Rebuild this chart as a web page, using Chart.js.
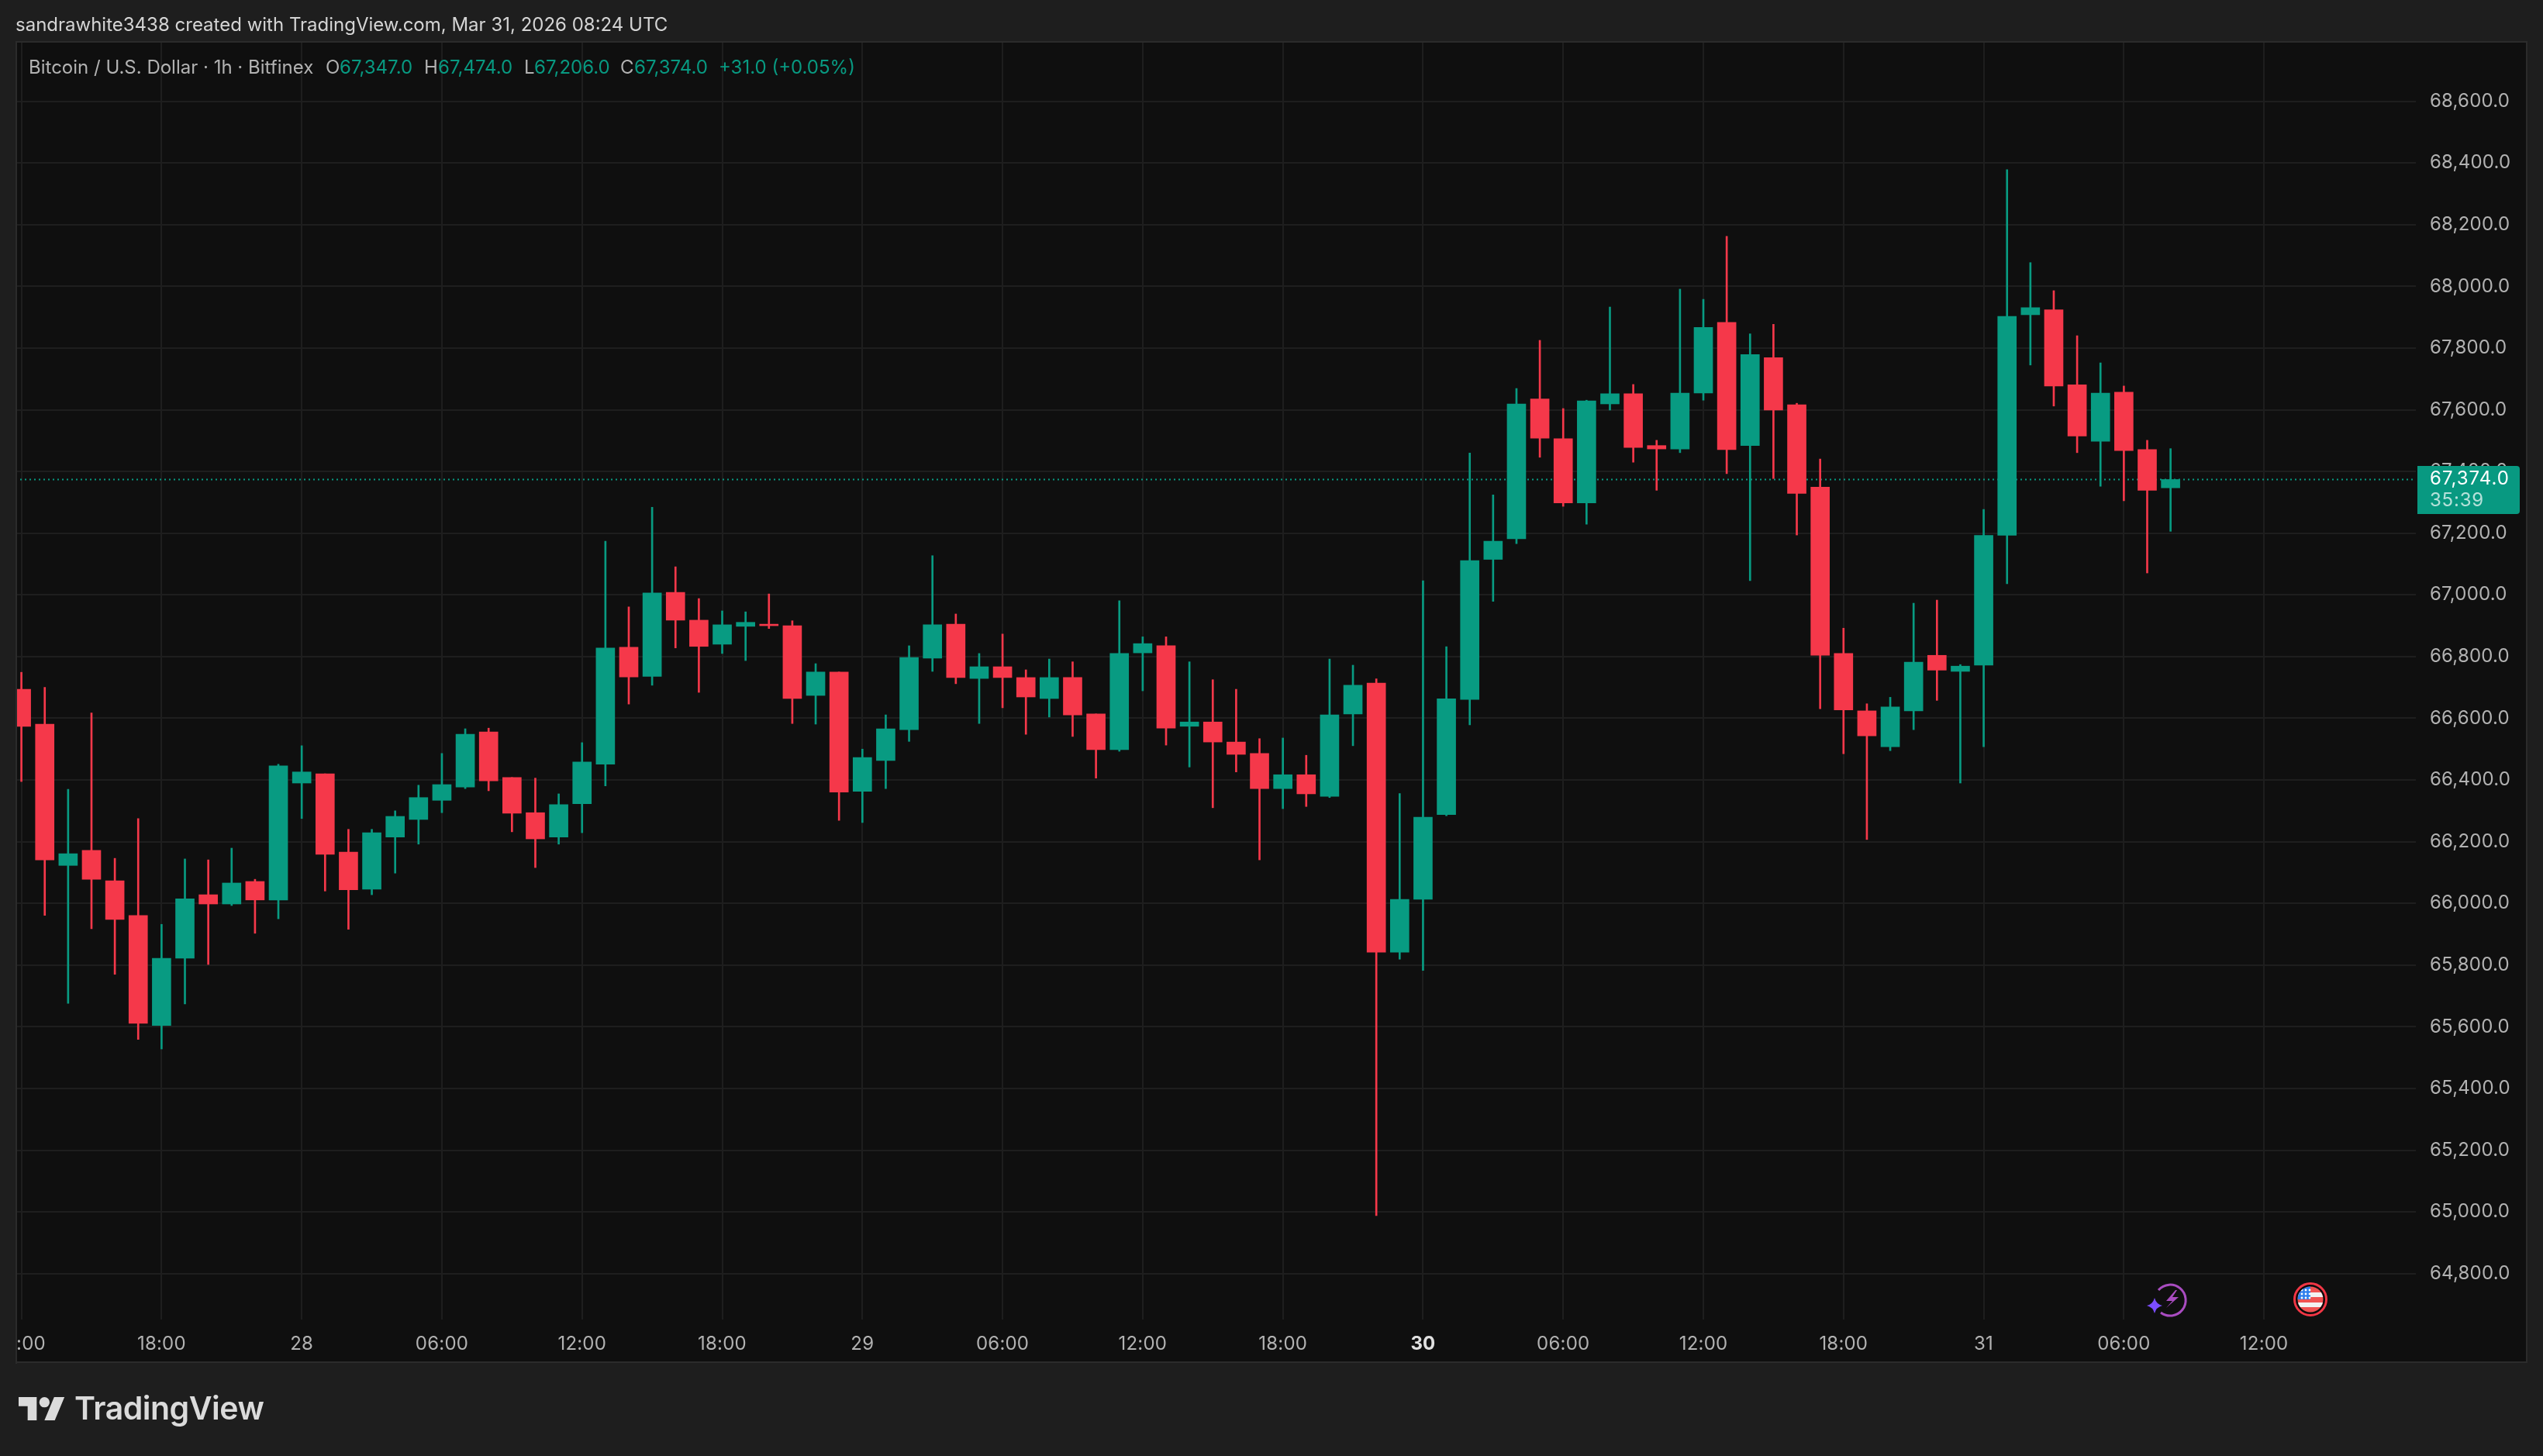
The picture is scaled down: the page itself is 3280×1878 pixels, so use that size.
<!DOCTYPE html>
<html>
<head>
<meta charset="utf-8">
<style>
html,body{margin:0;padding:0;background:#1e1e1e;overflow:hidden}
#wrap{position:relative;width:3280px;height:1878px;font-family:Inter,sans-serif}
canvas{position:absolute;left:0;top:0}
.t{position:absolute;white-space:nowrap;line-height:1;font-size:24px}
.g{color:#089981}.l{color:#b2b2b2}
</style>
<script src="https://cdn.jsdelivr.net/npm/chart.js@4"></script>
</head>
<body>
<div id="wrap">
<canvas id="c" width="3280" height="1878"></canvas>
<div class="t" style="left:20px;top:20px;color:#d4d4d4">sandrawhite3438 created with TradingView.com, Mar 31, 2026 08:24 UTC</div>
<div class="t l" style="left:37px;top:75px">Bitcoin / U.S. Dollar · 1h · Bitfinex</div>
<div class="t l" style="left:420px;top:75px">O</div><div class="t g" style="left:438px;top:75px">67,347.0</div>
<div class="t l" style="left:547px;top:75px">H</div><div class="t g" style="left:565px;top:75px">67,474.0</div>
<div class="t l" style="left:676px;top:75px">L</div><div class="t g" style="left:689px;top:75px">67,206.0</div>
<div class="t l" style="left:800px;top:75px">C</div><div class="t g" style="left:818px;top:75px">67,374.0</div>
<div class="t g" style="left:927px;top:75px">+31.0 (+0.05%)</div>
<svg style="position:absolute;left:24px;top:1802px" width="60" height="30" viewBox="0 4 36 18"><path fill="#dbdbdb" d="M14 22H7V11H0V4h14v18zM28 22h-8l7.5-18h8L28 22z"/><circle fill="#dbdbdb" cx="20" cy="8" r="4"/></svg>
<div class="t" style="left:96px;top:1796px;font-size:41px;font-weight:600;color:#dbdbdb;letter-spacing:-0.5px">TradingView</div>
<svg style="position:absolute;left:2765px;top:1650px" width="62" height="54" viewBox="2765 1650 62 54">
<path d="M2784 1664A20 20 0 1 1 2787 1693" fill="none" stroke="#a94cc0" stroke-width="3"/>
<path d="M2806 1664L2794 1678H2802L2794 1687L2810 1673H2802L2808 1664Z" fill="#a94cc0"/>
<path d="M2779 1674Q2781 1682 2789 1684Q2781 1686 2779 1694Q2777 1686 2769 1684Q2777 1682 2779 1674Z" fill="#7b4dff"/>
</svg>
<svg style="position:absolute;left:2955px;top:1651px" width="50" height="50" viewBox="2955 1651 50 50">
<defs><clipPath id="fc"><circle cx="2980" cy="1676" r="16.5"/></clipPath></defs>
<circle cx="2980" cy="1676" r="20.5" fill="#0b0b0b" stroke="#f23645" stroke-width="3"/>
<g clip-path="url(#fc)">
<rect x="2960" y="1656" width="40" height="40" fill="#f05252"/>
<rect x="2960" y="1667" width="40" height="6" fill="#f2f2f2"/>
<rect x="2960" y="1680" width="40" height="6" fill="#f2f2f2"/>
<rect x="2960" y="1656" width="20" height="20" fill="#2f80ed"/>
<g fill="#fff"><circle cx="2969" cy="1664" r="1.4"/><circle cx="2974" cy="1664" r="1.4"/><circle cx="2979" cy="1664" r="1.4"/><circle cx="2969" cy="1669" r="1.4"/><circle cx="2974" cy="1669" r="1.4"/><circle cx="2979" cy="1669" r="1.4"/><circle cx="2969" cy="1674" r="1.4"/><circle cx="2974" cy="1674" r="1.4"/><circle cx="2979" cy="1674" r="1.4"/></g>
</g></svg>
</div>
<script>
const opens=[66694,66581,66123,66172,66073,65961,65604,65822,66028,65998,66071,66011,66390,66420,66166,66046,66215,66272,66334,66377,66556,66408,66294,66215,66323,66451,66830,66736,67008,66918,66840,66898,66905,66900,66674,66750,66363,66463,66563,66795,66905,66729,66767,66732,66664,66732,66614,66498,66812,66835,66574,66588,66523,66486,66372,66417,66347,66614,66714,65842,66013,66288,66661,67115,67182,67635,67506,67298,67619,67652,67484,67473,67654,67883,67484,67769,67616,67349,66810,66624,66508,66624,66804,66752,66772,67193,67908,67924,67681,67498,67657,67471,67347];
const highs=[66749,66700,66370,66617,66146,66275,65932,66144,66141,66179,66078,66451,66511,66420,66240,66240,66300,66383,66486,66566,66568,66408,66406,66355,66521,67174,66961,67284,67091,66988,66948,66945,67003,66916,66777,66750,66500,66611,66835,67127,66938,66810,66873,66757,66792,66783,66614,66981,66864,66864,66783,66725,66694,66534,66536,66480,66792,66772,66728,66356,67046,66832,67460,67324,67669,67825,67604,67631,67933,67682,67501,67991,67958,68162,67846,67877,67621,67440,66892,66647,66668,66973,66983,66774,67277,68378,68077,67986,67840,67752,67677,67501,67474];
const lows=[66395,65961,65676,65918,65770,65559,65528,65674,65802,65993,65903,65950,66275,66040,65916,66028,66098,66192,66294,66372,66365,66232,66116,66192,66229,66381,66646,66707,66828,66684,66810,66787,66891,66583,66581,66269,66262,66372,66525,66752,66712,66583,66634,66548,66604,66541,66406,66493,66689,66513,66442,66310,66426,66141,66307,66314,66343,66511,64988,65819,65783,66284,66579,66979,67166,67446,67287,67229,67599,67430,67339,67461,67631,67393,67046,67377,67194,66631,66485,66207,66495,66563,66658,66390,66508,67036,67745,67612,67461,67352,67305,67071,67206];
const closes=[66574,66141,66161,66078,65948,65611,65822,66015,65998,66066,66011,66446,66426,66159,66044,66229,66282,66343,66385,66548,66397,66292,66209,66320,66458,66828,66734,67006,66918,66833,66903,66911,66900,66664,66750,66361,66473,66566,66797,66903,66732,66767,66732,66669,66732,66611,66498,66810,66842,66568,66588,66523,66483,66372,66417,66355,66611,66707,65842,66013,66279,66663,67111,67174,67619,67508,67298,67629,67652,67478,67473,67654,67867,67471,67779,67599,67329,66804,66627,66543,66637,66782,66756,66769,67193,67903,67931,67677,67515,67654,67468,67339,67374];
const priceTicks=[68600,68400,68200,68000,67800,67600,67400,67200,67000,66800,66600,66400,66200,66000,65800,65600,65400,65200,65000,64800];
const timeTickPositions=[0,6,12,18,24,30,36,42,48,54,60,66,72,78,84,90,96];
const timeTickLabels=['12:00','18:00','28','06:00','12:00','18:00','29','06:00','12:00','18:00','30','06:00','12:00','18:00','31','06:00','12:00'];
const boldTimeLabel='30';
const lastPrice=67374, countdown='35:39';
const UP='#089b82', DOWN='#f5384a', TICK='#b2b2b2', GRID='#1e1e1e', OUTER='#1e1e1e', PANE='#0f0f0f', EDGE='#2b2b2b';
const FONT='Inter, sans-serif';
const xMin=-0.252, xMax=102.5, yMin=64651, yMax=68790;

const colors=opens.map((o,i)=>closes[i]>=o?UP:DOWN);
const fmt=v=>v.toLocaleString('en-US',{minimumFractionDigits:1,maximumFractionDigits:1});

const frame={id:'frame',
  beforeDraw(ch){const c=ch.ctx;c.save();
    c.fillStyle=OUTER;c.fillRect(0,0,ch.width,ch.height);
    c.fillStyle=PANE;c.fillRect(20,53,3240,1704);
    c.strokeStyle=EDGE;c.lineWidth=2;c.strokeRect(21,54,3238,1703);
    c.restore();
    c.letterSpacing='0.2px';},
  afterDraw(ch){const c=ch.ctx,y=ch.scales.y;c.save();
    c.fillStyle=OUTER;c.fillRect(0,53,20,1706);
    c.fillStyle=EDGE;c.fillRect(20,53,2,1706);
    const py=y.getPixelForValue(lastPrice);
    const top=Math.round(py-17.5);
    c.fillStyle='#089981';c.beginPath();c.roundRect(3118,top,132,62,[0,4,4,0]);c.fill();
    c.textAlign='left';c.textBaseline='middle';c.font='24px '+FONT;c.letterSpacing='1px';
    c.fillStyle='#ffffff';c.fillText(fmt(lastPrice),3134,top+17);
    c.letterSpacing='0.8px';
    c.fillStyle='rgba(255,255,255,0.7)';c.fillText(countdown,3134,top+45);
    c.restore();}
};

new Chart(document.getElementById('c'),{
  type:'bar',
  plugins:[frame],
  data:{datasets:[
    {label:'Body',order:1,grouped:false,barThickness:24,backgroundColor:colors,borderWidth:0,
      data:opens.map((o,i)=>({x:i,y:[o,closes[i]]}))},
    {label:'Wick',order:2,grouped:false,barThickness:2,backgroundColor:colors,borderWidth:0,
      data:lows.map((l,i)=>({x:i,y:[l,highs[i]]}))},
    {label:'Last',type:'line',order:3,borderColor:'#089981',borderWidth:2,borderDash:[2,4],pointRadius:0,fill:false,
      data:[{x:xMin,y:lastPrice},{x:xMax,y:lastPrice}]}
  ]},
  options:{
    responsive:false,animation:false,devicePixelRatio:1,
    layout:{padding:{left:20,right:20,top:55,bottom:121}},
    plugins:{legend:{display:false},tooltip:{enabled:false},title:{display:false}},
    scales:{
      x:{type:'linear',min:xMin,max:xMax,offset:false,
        grid:{color:GRID,lineWidth:2,offset:false,drawTicks:false},border:{display:false},
        afterBuildTicks:s=>{s.ticks=timeTickPositions.map(v=>({value:v}));},
        afterFit:s=>{s.height=55;s.paddingLeft=0;s.paddingRight=0;},
        ticks:{autoSkip:false,maxRotation:0,padding:17,
          callback:(v,i)=>timeTickLabels[i],
          color:c=>timeTickLabels[c.index]===boldTimeLabel?'#e0e0e0':TICK,
          font:c=>({family:FONT,size:24,weight:timeTickLabels[c.index]===boldTimeLabel?'700':'400'})}},
      y:{type:'linear',position:'right',min:yMin,max:yMax,
        grid:{color:GRID,lineWidth:2,drawTicks:false},border:{display:false},
        afterBuildTicks:s=>{s.ticks=priceTicks.map(v=>({value:v}));},
        afterFit:s=>{s.width=144;s.paddingTop=0;s.paddingBottom=0;},
        ticks:{autoSkip:false,padding:18,color:TICK,font:{family:FONT,size:24},callback:v=>fmt(v)}}
    }
  }
});
</script>
</body>
</html>
